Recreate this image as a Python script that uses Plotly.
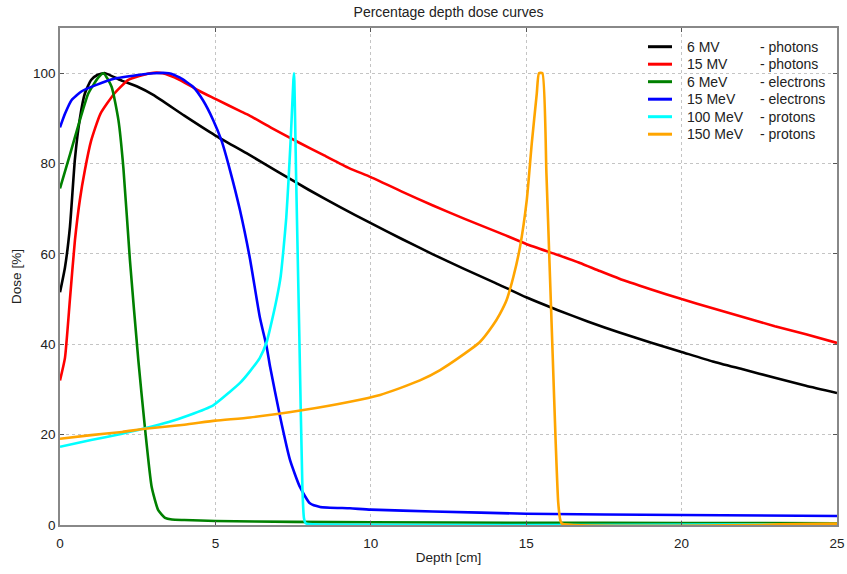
import plotly.graph_objects as go

# ---------------- data ----------------
names = ["6 MV", "15 MV", "6 MeV", "15 MeV", "100 MeV", "150 MeV"]
kinds = ["- photons", "- photons", "- electrons", "- electrons", "- protons", "- protons"]
colors = ["#000000", "#ff0000", "#008000", "#0000ff", "#00ffff", "#ffa500"]

x_6mv = [0, 0.16, 0.32, 0.48, 0.64, 0.8, 1.0, 1.2, 1.45, 2, 2.5, 3, 4, 5, 6, 7, 8, 9, 10,
         11, 12, 13, 14, 15, 16, 17, 18, 19, 20, 21, 22, 23, 24, 25]
y_6mv = [51.5, 57, 66, 81, 90, 95.5, 98.5, 99.6, 100, 98.3, 97, 95.2, 90.6, 86.2, 82.3, 78.2, 74.2,
         70.4, 66.8, 63.3, 59.9, 56.7, 53.6, 50.4, 47.6, 45, 42.6, 40.4, 38.3, 36.2, 34.4, 32.6, 30.8, 29.2]

x_15mv = [0, 0.16, 0.32, 0.48, 0.64, 0.8, 1.0, 1.3, 1.75, 2.2, 2.9, 3.3, 3.86, 4.5, 5, 5.8, 6.1, 6.8,
          7.7, 8.5, 9.3, 10, 11, 12, 13, 14.16, 15, 16, 16.73, 17.37, 18, 19, 20, 21, 22, 23, 24, 25]
y_15mv = [32, 37, 50, 63, 72, 78.5, 85, 91, 95.5, 98.5, 100, 100, 98.5, 96, 94.3, 91.6, 90.6, 87.9,
          84.6, 81.8, 79, 77, 73.8, 70.7, 67.8, 64.6, 62.2, 59.8, 58, 56.2, 54.5, 52.2, 50, 48, 46, 44, 42.2, 40.3]

x_6mev = [0, 0.32, 0.64, 0.91, 1.23, 1.4, 1.66, 1.88, 2.04, 2.25, 2.52, 2.73, 2.95, 3.16, 3.38,
          3.6, 4, 5, 7.5, 10, 15, 20, 25]
y_6mev = [74.5, 82, 89.6, 95.5, 99, 100, 97, 89.6, 79, 58.6, 36.5, 21.7, 8.4, 3.3, 1.6,
          1.2, 1.1, 0.9, 0.7, 0.6, 0.5, 0.45, 0.4]

x_15mev = [0, 0.16, 0.37, 0.7, 1.13, 1.77, 2.52, 3.0, 3.5, 3.86, 4.28, 4.6, 4.93, 5.2, 5.47, 5.79,
           6.11, 6.43, 6.65, 6.76, 7.08, 7.4, 7.72, 8.04, 8.37, 9.33, 10, 12, 15, 20, 25]
y_15mev = [88, 91, 94, 96, 97.3, 98.8, 99.6, 100, 100, 99, 97, 94, 89.6, 85, 78.5, 69.7,
           59, 46, 39.4, 35, 24, 14.4, 8.4, 4.8, 4, 3.7, 3.4, 3, 2.5, 2.2, 2.0]

x_100mev = [0, 1, 2, 2.73, 3.5, 4.15, 4.93, 5.47, 5.8, 6.11, 6.43, 6.65, 6.76, 6.97, 7.1, 7.19,
            7.28, 7.35, 7.42, 7.46, 7.51, 7.53, 7.6, 7.7, 7.8, 7.85, 7.9, 8.0, 25]
y_100mev = [17.3, 18.8, 20.2, 21.4, 22.8, 24.3, 26.5, 29.5, 31.5, 34, 37, 40.5, 43.5, 50, 55, 61,
            68, 76, 85, 91, 98.5, 100, 76, 42, 8, 1.5, 0.4, 0.2, 0.2]

x_150mev = [0, 1, 2, 2.73, 4, 5, 6.11, 7.78, 9.33, 10.3, 10.94, 11.58, 12.23, 12.87, 13.51, 13.93,
            14.16, 14.37, 14.59, 14.8, 15.02, 15.18, 15.34, 15.41, 15.52, 15.65, 15.75, 15.85,
            15.95, 16.03, 16.1, 16.15, 25]
y_150mev = [19.1, 19.9, 20.6, 21.3, 22.2, 23.1, 23.8, 25.4, 27.3, 28.8, 30.3, 32, 34.3, 37.2, 40.5, 44.2,
            46.8, 49.8, 55, 61.5, 72, 84.5, 95.5, 100, 100, 78, 58, 38, 18, 5, 1, 0.3, 0.3]

xs = [x_6mv, x_15mv, x_6mev, x_15mev, x_100mev, x_150mev]
ys = [y_6mv, y_15mv, y_6mev, y_15mev, y_100mev, y_150mev]

x_ticks = [0, 5, 10, 15, 20, 25]
y_ticks = [0, 20, 40, 60, 80, 100]

# ---------------- figure ----------------
fig = go.Figure()
for xv, yv, n, c in zip(xs, ys, names, colors):
    fig.add_trace(go.Scatter(x=xv, y=yv, mode="lines", name=n,
                             line=dict(color=c, width=2.6, shape="spline", smoothing=0.5),
                             showlegend=False))

FONT = "Liberation Sans, Arial, sans-serif"

# manual legend (two text columns)
L, R, W, H, T, B = 60, 837, 847, 574, 28, 525
pw, ph = R - L, B - T
row0 = 46.7
step = 17.5
for i, (n, k, c) in enumerate(zip(names, kinds, colors)):
    py = row0 + i * step
    yp = (B - py) / ph
    fig.add_shape(type="line", xref="paper", yref="paper",
                  x0=(648 - L) / pw, x1=(672 - L) / pw, y0=yp, y1=yp,
                  line=dict(color=c, width=3))
    fig.add_annotation(xref="paper", yref="paper", x=(685 - L) / pw, y=yp,
                       text=n, showarrow=False, xanchor="left", yanchor="middle",
                       font=dict(family=FONT, size=14, color="#222"))
    fig.add_annotation(xref="paper", yref="paper", x=(758 - L) / pw, y=yp,
                       text=k, showarrow=False, xanchor="left", yanchor="middle",
                       font=dict(family=FONT, size=14, color="#222"))

axis_common = dict(showline=True, linecolor="#888888", linewidth=1.5, mirror="ticks",
                   ticks="inside", ticklen=4, tickcolor="#555555", automargin=False,
                   showgrid=True, gridcolor="#c4c4c4", griddash="dot", gridwidth=1,
                   zeroline=False, tickfont=dict(family=FONT, size=13.5, color="#222"))

fig.update_xaxes(range=[0, 25], tickvals=x_ticks, ticklabelstandoff=5,
                 title=dict(text="Depth [cm]", font=dict(family=FONT, size=13.5, color="#222"), standoff=3),
                 **axis_common)
fig.update_yaxes(range=[0, 110], tickvals=y_ticks,
                 title=dict(text="Dose [%]", font=dict(family=FONT, size=13.5, color="#222"), standoff=8),
                 **axis_common)

fig.update_layout(
    width=W, height=H,
    margin=dict(l=L, r=W - R, t=T, b=H - B),
    paper_bgcolor="white", plot_bgcolor="white",
    title=dict(text="Percentage depth dose curves", x=(L + pw / 2) / W, xanchor="center",
               y=1 - 12 / H, yanchor="middle",
               font=dict(family=FONT, size=14, color="#222")),
)

fig.write_html("out.html")
